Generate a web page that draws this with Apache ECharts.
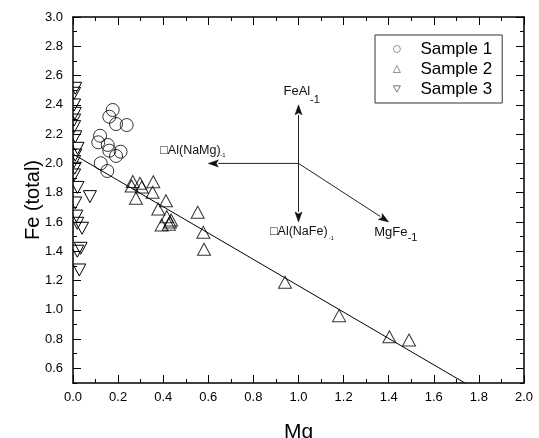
<!DOCTYPE html>
<html><head><meta charset="utf-8">
<script src="https://cdn.jsdelivr.net/npm/echarts@6/dist/echarts.min.js"></script>
<style>html,body{margin:0;padding:0;background:#fff}#c{width:539px;height:438px}</style>
</head><body><div id="c"></div>
<script>
// ---- data ----
const sample1 = [[0.176,2.365],[0.161,2.319],[0.191,2.269],[0.238,2.262],[0.120,2.189],[0.112,2.144],
  [0.154,2.126],[0.161,2.087],[0.211,2.080],[0.191,2.051],[0.123,2.001],[0.152,1.948]];
const sample2 = [[0.265,1.876],[0.297,1.864],[0.356,1.875],[0.260,1.846],[0.305,1.839],[0.279,1.762],
  [0.353,1.803],[0.412,1.745],[0.378,1.689],[0.416,1.636],[0.435,1.613],[0.393,1.579],[0.430,1.600],
  [0.425,1.585],[0.553,1.666],[0.578,1.529],[0.581,1.413],[0.940,1.188],[1.180,0.960],[1.403,0.816],[1.490,0.794]];
const sample3 = [[0.010,2.513],[0.005,2.479],[0.005,2.399],[0.008,2.342],[0.005,2.296],[0.005,2.251],
  [0.010,2.182],[0.020,2.103],[0.010,2.057],[0.005,2.012],[0.008,1.967],[0.005,1.921],[0.020,1.836],
  [0.075,1.773],[0.010,1.730],[0.015,1.640],[0.040,1.557],[0.019,1.591],[0.034,1.420],[0.019,1.400],[0.028,1.272]];
const fitX = [0, 1.738];
const fitY = [2.064, 0.500];
const vecOrigin = [1.0, 2.0];
const vecMain = ['FeAl', '\u25A1Al(NaMg)', '\u25A1Al(NaFe)', 'MgFe'];
const vecSub = ['-1', '-1', '-1', '-1'];
const vecTipX = [1.0, 0.6, 1.0, 1.4];
const vecTipY = [2.4, 2.0, 1.6, 1.6];
const xTicks = [0,0.2,0.4,0.6,0.8,1.0,1.2,1.4,1.6,1.8,2.0];
const yTicks = [0.6,0.8,1.0,1.2,1.4,1.6,1.8,2.0,2.2,2.4,2.6,2.8,3.0];
const seriesNames = ['Sample 1','Sample 2','Sample 3'];

// ---- styling ----
const FONT = 'Liberation Sans, Arial, sans-serif';
// pixel offsets of annotation text (main, subscript) from each vector tip
const labelLayout = [
  {mx:-15, my:-13, mf:13, sx:11.5, sy:-5, sf:11},
  {mx:-48, my:-13, mf:12.5, sx:12, sy:-8.5, sf:6},
  {mx:-28.5, my:10, mf:12.5, sx:30, sy:16.5, sf:6},
  {mx:-14.5, my:10, mf:13, sx:19, sy:16.5, sf:11}
];
const hollow = {color:'rgba(0,0,0,0)', borderColor:'#000', borderWidth:1};
const downTri = 'path://M0,0L10,0L5,9Z';
const axisLine = {show:true, lineStyle:{color:'#000', width:1.5}};
const tickStyle = {color:'#000', width:1};

const chart = echarts.init(document.getElementById('c'), null, {renderer:'canvas'});
chart.setOption({
  animation:false,
  textStyle:{fontFamily:FONT},
  grid:{left:73, right:15, top:17, bottom:55, containLabel:false, outerBoundsMode:'none'},
  legend:{
    orient:'vertical', left:375, top:35, padding:[4,10,4,18],
    borderColor:'#333', borderWidth:1, itemGap:0, itemWidth:7, itemHeight:7,
    textStyle:{fontSize:17, color:'#000', lineHeight:20, padding:[0,0,0,15], fontFamily:FONT},
    data:[
      {name:seriesNames[0], icon:'circle', itemStyle:{color:'rgba(0,0,0,0)', borderColor:'#555', borderWidth:0.8}},
      {name:seriesNames[1], icon:'triangle', itemStyle:{color:'rgba(0,0,0,0)', borderColor:'#555', borderWidth:0.8}},
      {name:seriesNames[2], icon:downTri, itemStyle:{color:'rgba(0,0,0,0)', borderColor:'#555', borderWidth:0.8}}
    ]
  },
  xAxis:[
    {type:'value', position:'bottom', min:0, max:2, interval:0.2,
     axisLine:axisLine, axisTick:{inside:true, length:8, lineStyle:tickStyle},
     minorTick:{show:true, splitNumber:2, length:4, lineStyle:tickStyle},
     splitLine:{show:false}, minorSplitLine:{show:false},
     axisLabel:{fontSize:13, color:'#000', margin:8, formatter:v=>v.toFixed(1)},
     name:'Mg', nameLocation:'middle', nameGap:39, nameMoveOverlap:false, nameTextStyle:{fontSize:21, color:'#000'}},
    {type:'value', position:'top', min:0, max:2, interval:0.2,
     axisLine:axisLine, axisTick:{inside:true, length:8, lineStyle:tickStyle},
     minorTick:{show:true, splitNumber:2, length:4, lineStyle:tickStyle},
     splitLine:{show:false}, minorSplitLine:{show:false}, axisLabel:{show:false}}
  ],
  yAxis:[
    {type:'value', position:'left', min:0.5, max:3.0,
     axisLine:axisLine, axisTick:{inside:true, length:8, lineStyle:tickStyle, customValues:yTicks},
     axisLabel:{fontSize:13, color:'#000', margin:10, customValues:yTicks, formatter:v=>v.toFixed(1)},
     splitLine:{show:false},
     name:'Fe (total)', nameLocation:'middle', nameGap:30, nameRotate:90, nameMoveOverlap:false,
     nameTextStyle:{fontSize:20, color:'#000'}},
    {type:'value', position:'left', min:0.5, max:3.0, interval:0.1,
     axisLine:{show:false}, axisTick:{inside:true, length:4, lineStyle:tickStyle},
     axisLabel:{show:false}, splitLine:{show:false}},
    {type:'value', position:'right', min:0.5, max:3.0,
     axisLine:axisLine, axisTick:{inside:true, length:8, lineStyle:tickStyle, customValues:yTicks},
     axisLabel:{show:false, customValues:yTicks}, splitLine:{show:false}},
    {type:'value', position:'right', min:0.5, max:3.0, interval:0.1,
     axisLine:{show:false}, axisTick:{inside:true, length:4, lineStyle:tickStyle},
     axisLabel:{show:false}, splitLine:{show:false}}
  ],
  series:[
    {name:'fit', type:'line', data:fitX.map((x,i)=>[x, fitY[i]]), showSymbol:false, symbol:'none',
     lineStyle:{color:'#000', width:1}, silent:true, z:2},
    {name:seriesNames[0], type:'scatter', data:sample1, symbol:'circle', symbolSize:13, itemStyle:hollow, z:3},
    {name:seriesNames[1], type:'scatter', data:sample2, symbol:'triangle', symbolSize:[13,12], itemStyle:hollow, z:3},
    {name:seriesNames[2], type:'custom', data:sample3, clip:true, encode:{x:0, y:1}, itemStyle:hollow, z:3,
     renderItem:(params, api)=>{
       const p = api.coord([api.value(0), api.value(1)]);
       const w = 13, h = 12;
       return {type:'polygon', shape:{points:[[p[0]-w/2,p[1]-h/2],[p[0]+w/2,p[1]-h/2],[p[0],p[1]+h/2]]},
               style:{fill:'none', stroke:'#000', lineWidth:1}};
     }},
    {name:'vectors', type:'custom', silent:true, z:4, clip:false, encode:{x:0, y:1},
     data:vecTipX.map((x,i)=>[x, vecTipY[i]]),
     renderItem:(params, api)=>{
       const i = params.dataIndex;
       const o = api.coord(vecOrigin);
       const t = api.coord([api.value(0), api.value(1)]);
       const dx = t[0]-o[0], dy = t[1]-o[1], len = Math.hypot(dx,dy);
       const ux = dx/len, uy = dy/len, hl = 10, hw = 3.5;
       const bx = t[0]-ux*hl, by = t[1]-uy*hl;
       const L = labelLayout[i];
       return {type:'group', children:[
         {type:'line', shape:{x1:o[0], y1:o[1], x2:bx, y2:by}, style:{stroke:'#222', lineWidth:1}},
         {type:'polygon', shape:{points:[[t[0],t[1]],[bx-uy*hw,by+ux*hw],[bx+ux*2,by+uy*2],[bx+uy*hw,by-ux*hw]]},
          style:{fill:'#111', stroke:'#111', lineWidth:0.5}},
         {type:'text', x:t[0]+L.mx, y:t[1]+L.my,
          style:{text:vecMain[i], fontSize:L.mf, fontFamily:FONT, fill:'#111', align:'left', verticalAlign:'middle'}},
         {type:'text', x:t[0]+L.sx, y:t[1]+L.sy,
          style:{text:vecSub[i], fontSize:L.sf, fontFamily:FONT, fill:'#111', align:'left', verticalAlign:'middle'}}
       ]};
     }}
  ]
});
</script>
</body></html>
